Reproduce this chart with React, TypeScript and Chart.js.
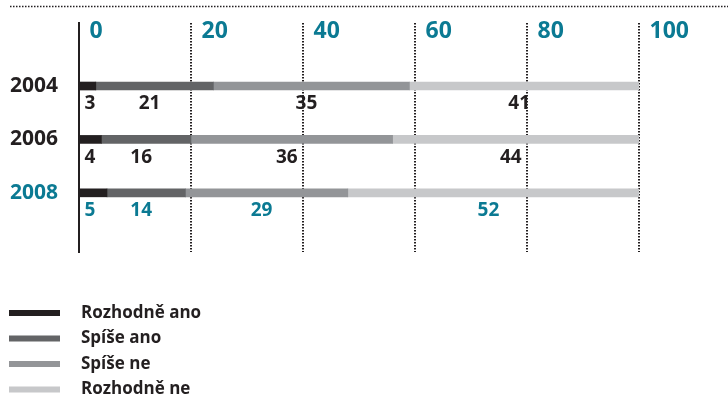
import { useEffect, useRef } from 'react';
import { Chart, registerables } from 'chart.js';

Chart.register(...registerables);

const years = ['2004', '2006', '2008'];
const seriesNames = ['Rozhodně ano', 'Spíše ano', 'Spíše ne', 'Rozhodně ne'];
const rozhodneAno = [3, 4, 5];
const spiseAno = [21, 16, 14];
const spiseNe = [35, 36, 29];
const rozhodneNe = [41, 44, 52];
const xTicks = [0, 20, 40, 60, 80, 100];
const seriesColors = ['#231f20', '#636466', '#939598', '#c7c8ca'];

const TEAL = '#0b7a93';
const INK = '#231f20';
const FONT = "'Open Sans', 'Liberation Sans', sans-serif";
const HIGHLIGHT_INDEX = 2;

const allSeries = [rozhodneAno, spiseAno, spiseNe, rozhodneNe];

const decorPlugin = {
  id: 'decor',
  beforeDraw(chart: any) {
    const ctx = chart.ctx;
    ctx.save();
    ctx.strokeStyle = INK;
    ctx.lineWidth = 1.5;
    ctx.setLineDash([1.5, 1.5]);
    ctx.beginPath();
    ctx.moveTo(10, 6.5);
    ctx.lineTo(728, 6.5);
    ctx.stroke();
    ctx.restore();
  },
  afterDatasetsDraw(chart: any) {
    const ctx = chart.ctx;
    ctx.save();
    ctx.font = `bold 19px ${FONT}`;
    ctx.textAlign = 'center';
    ctx.textBaseline = 'middle';
    chart.data.datasets.forEach((ds: any, di: number) => {
      const meta = chart.getDatasetMeta(di);
      meta.data.forEach((el: any, i: number) => {
        const v = allSeries[di][i];
        const start = Math.min(el.x, el.base);
        const end = Math.max(el.x, el.base);
        const cx = Math.max((start + end) / 2 - 5, start + 10);
        ctx.fillStyle = i === HIGHLIGHT_INDEX ? TEAL : INK;
        ctx.fillText(String(v), cx, el.y + 18);
      });
    });
    ctx.restore();
  },
  afterDraw(chart: any) {
    const ctx = chart.ctx;
    ctx.save();
    ctx.font = `bold 17px ${FONT}`;
    ctx.textAlign = 'left';
    ctx.textBaseline = 'middle';
    chart.data.datasets.forEach((ds: any, di: number) => {
      const cy = 313 + di * 25.5;
      ctx.fillStyle = ds.backgroundColor;
      ctx.fillRect(9, cy - 3, 51, 6);
      ctx.fillStyle = INK;
      ctx.fillText(ds.label, 81, cy);
    });
    ctx.restore();
  },
};

export default function App() {
  const ref = useRef<HTMLCanvasElement>(null);

  useEffect(() => {
    const canvas = ref.current;
    if (!canvas) return;
    const chart = new Chart(canvas, {
      type: 'bar',
      data: {
        datasets: allSeries.map((vals, k) => ({
          label: seriesNames[k],
          data: vals.map((v, i) => ({ x: v, y: i })),
          backgroundColor: seriesColors[k],
          borderWidth: 0,
          barThickness: 8,
        })),
      } as any,
      options: {
        indexAxis: 'y',
        responsive: false,
        animation: false,
        events: [],
        layout: { padding: { top: 13, left: 0, right: 89, bottom: 148 } },
        scales: {
          x: {
            type: 'linear',
            position: 'top',
            min: 0,
            max: 100,
            bounds: 'data',
            stacked: true,
            afterBuildTicks: (scale: any) => {
              scale.ticks = xTicks.map((v) => ({ value: v }));
            },
            afterFit: (scale: any) => {
              scale.height = 10;
              scale.paddingLeft = 0;
              scale.paddingRight = 0;
            },
            ticks: {
              color: TEAL,
              font: { family: FONT, size: 23, weight: 'bold', lineHeight: 1 },
              align: 'start',
              labelOffset: 10.5,
              mirror: true,
              padding: -3,
            },
            grid: {
              drawTicks: false,
              color: (c: any) => (c.tick && c.tick.value === 0 ? 'rgba(0,0,0,0)' : INK),
              lineWidth: 2,
            },
            border: { display: false, dash: [1.5, 1.5] },
          },
          y: {
            type: 'linear',
            position: 'left',
            reverse: true,
            offset: false,
            min: -1.18,
            max: 3.108,
            bounds: 'data',
            stacked: true,
            afterBuildTicks: (scale: any) => {
              scale.ticks = years.map((_, i) => ({ value: i }));
            },
            afterFit: (scale: any) => {
              scale.width = 79;
              scale.paddingTop = 0;
              scale.paddingBottom = 0;
            },
            ticks: {
              callback: (v: any) => years[v as number] ?? '',
              color: (c: any) => (c.tick && c.tick.value === HIGHLIGHT_INDEX ? TEAL : INK),
              font: { family: FONT, size: 21, weight: 'bold' },
              padding: 21,
            },
            grid: { display: false, drawTicks: false, offset: false },
            border: { display: true, color: INK, width: 2 },
          },
        },
        plugins: {
          legend: { display: false },
          tooltip: { enabled: false },
        },
      } as any,
      plugins: [decorPlugin],
    });
    return () => chart.destroy();
  }, []);

  return (
    <div style={{ position: 'fixed', left: 0, top: 0, width: 728, height: 400, background: '#ffffff' }}>
      <canvas ref={ref} width={728} height={400} style={{ display: 'block' }} />
    </div>
  );
}
